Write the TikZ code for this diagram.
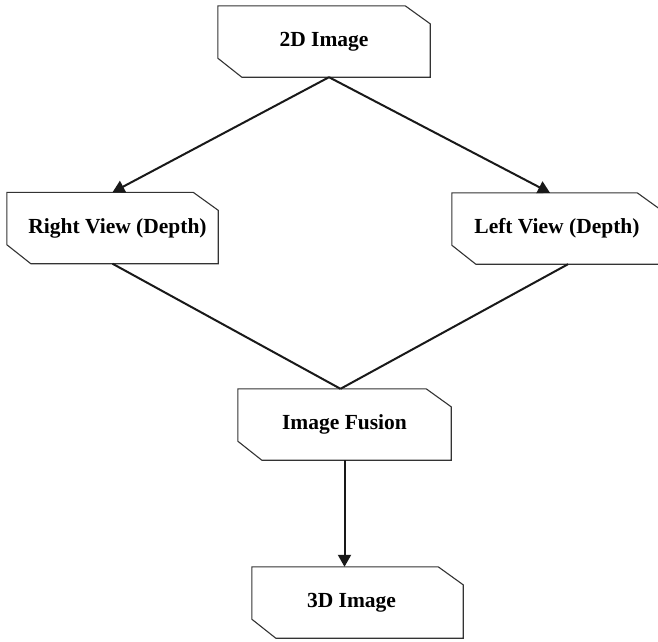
\documentclass[tikz,border=0pt]{standalone}
\usepackage{fontspec}
\setmainfont{Liberation Serif}
\usetikzlibrary{arrows.meta}
\tikzset{
  boxnode/.style={draw=none, minimum width=#1, minimum height=71pt, inner sep=0pt, font=\fontsize{21.5}{25}\selectfont\bfseries},
  boxline/.style={draw=black!80, line width=1.1pt},
  conn/.style={line width=2pt, black!90},
  arr/.style={conn, -{Triangle[length=12pt,width=13pt]}}
}
\newcommand\cutbox[1]{%
  \draw[boxline] (#1.north west) -- ([xshift=-25pt]#1.north east) -- ([yshift=-18pt]#1.north east) -- (#1.south east) -- ([xshift=24pt]#1.south west) -- ([yshift=19pt]#1.south west) -- cycle;}
\begin{document}
\begin{tikzpicture}[x=1pt,y=-1pt]
\useasboundingbox (0,0) rectangle (658,641);
\node[boxnode=212pt] (b1) at (324,41.5) {2D Image};
\node[boxnode=211pt] (b2) at (112.5,228) {\hspace{10pt}Right View (Depth)};
\node[boxnode=210pt] (b3) at (557,228.5) {Left View (Depth)\hspace{14pt}};
\node[boxnode=213pt] (b4) at (344.5,424.5) {Image Fusion};
\node[boxnode=211pt] (b5) at (357.5,602.5) {\hspace{-12pt}3D Image};
\cutbox{b1}\cutbox{b2}\cutbox{b3}\cutbox{b4}\cutbox{b5}
\coordinate (top) at ([xshift=5pt]b1.south);
\coordinate (mid) at ([xshift=-4pt]b4.north);
\draw[arr] (top) -- (b2.north);
\draw[arr] (top) -- ([xshift=-7pt]b3.north);
\draw[conn] (b2.south) -- (mid);
\draw[conn] ([xshift=11pt]b3.south) -- (mid);
\draw[arr] (b4.south) -- ([xshift=-13pt]b5.north);
\end{tikzpicture}
\end{document}
